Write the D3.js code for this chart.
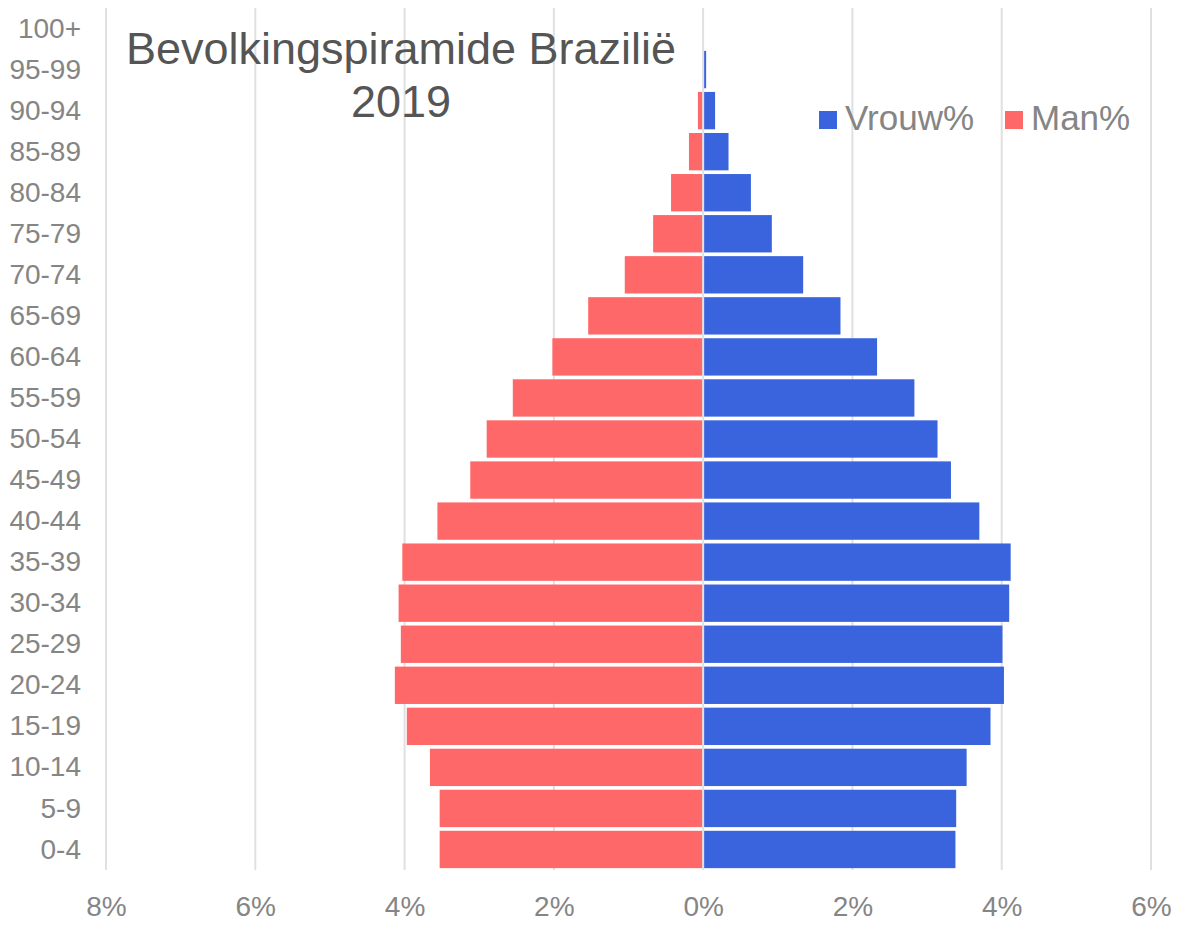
<!DOCTYPE html>
<html>
<head>
<meta charset="utf-8">
<script src="https://cdn.jsdelivr.net/npm/d3@7"></script>
<style>
  html, body { margin: 0; padding: 0; background: #fff; }
  svg { display: block; font-family: "Liberation Sans", Arial, Helvetica, sans-serif; }
</style>
</head>
<body>
<svg id="chart" width="1200" height="933"></svg>
<script>
// ---- data ----
const ageGroups = ["0-4","5-9","10-14","15-19","20-24","25-29","30-34","35-39","40-44","45-49",
                   "50-54","55-59","60-64","65-69","70-74","75-79","80-84","85-89","90-94","95-99","100+"];
const vrouwPct = [3.38, 3.39, 3.53, 3.85, 4.03, 4.01, 4.10, 4.12, 3.70, 3.32,
                  3.14, 2.83, 2.33, 1.84, 1.34, 0.92, 0.64, 0.34, 0.16, 0.04, 0.0];
const manPct   = [3.53, 3.53, 3.66, 3.97, 4.13, 4.05, 4.08, 4.03, 3.56, 3.12,
                  2.90, 2.55, 2.02, 1.54, 1.05, 0.67, 0.43, 0.19, 0.07, 0.0, 0.0];
const xTicks = [-8, -6, -4, -2, 0, 2, 4, 6];
const xTickLabels = ["8%", "6%", "4%", "2%", "0%", "2%", "4%", "6%"];
const seriesNames = ["Vrouw%", "Man%"];
const titleLines = ["Bevolkingspiramide Brazilië", "2019"];

// ---- layout ----
const colors = { "Vrouw%": "#3a64dd", "Man%": "#fe6869" };
const svg = d3.select("#chart");
const plot = { left: 106, right: 1151, top: 8, bottom: 870 };

const x = d3.scaleLinear().domain([-8, 6]).range([plot.left, plot.right]);
const y = d3.scaleBand().domain(ageGroups.slice().reverse()).range([plot.top, plot.bottom]).paddingInner(0.09).paddingOuter(0.045);

// gridlines
svg.append("g").selectAll("line").data(xTicks).join("line")
  .attr("x1", d => x(d)).attr("x2", d => x(d))
  .attr("y1", plot.top).attr("y2", plot.bottom)
  .attr("stroke", "#e0e0e0").attr("stroke-width", 2);

// bars
const rows = ageGroups.map((g, i) => ({ g, v: vrouwPct[i], m: manPct[i] }));
svg.append("g").selectAll("rect").data(rows.filter(d => d.m > 0)).join("rect")
  .attr("x", d => x(-d.m)).attr("width", d => x(0) - x(-d.m) - 1)
  .attr("y", d => y(d.g)).attr("height", y.bandwidth())
  .attr("fill", colors["Man%"]);
svg.append("g").selectAll("rect").data(rows.filter(d => d.v > 0)).join("rect")
  .attr("x", x(0) + 1).attr("width", d => Math.max(0, x(d.v) - x(0) - 1))
  .attr("y", d => y(d.g)).attr("height", y.bandwidth())
  .attr("fill", colors["Vrouw%"]);

// y axis labels
const yAxis = d3.axisLeft(y).tickSize(0).tickPadding(0);
const yg = svg.append("g").attr("transform", `translate(81,-1)`).call(yAxis);
yg.select(".domain").remove();
yg.selectAll("text").attr("font-size", 28).attr("fill", "#858585")
  .attr("font-family", "'Liberation Sans', Arial, sans-serif").attr("dy", "0.36em");

// x axis labels
const xAxis = d3.axisBottom(x).tickValues(xTicks).tickSize(0).tickPadding(0)
  .tickFormat((d, i) => xTickLabels[i]);
const xg = svg.append("g").attr("transform", `translate(0,896)`).call(xAxis);
xg.select(".domain").remove();
xg.selectAll("text").attr("font-size", 28).attr("fill", "#858585")
  .attr("font-family", "'Liberation Sans', Arial, sans-serif").attr("dy", "0.7em");

// title
const title = svg.append("text").attr("text-anchor", "middle")
  .attr("font-size", 45).attr("fill", "#555555");
title.selectAll("tspan").data(titleLines).join("tspan")
  .attr("x", 401).attr("y", (d, i) => 64 + i * 53).text(d => d);

// legend
const legendItems = [
  { name: seriesNames[0], sx: 819 },
  { name: seriesNames[1], sx: 1005 }
];
const lg = svg.append("g").selectAll("g").data(legendItems).join("g");
lg.append("rect").attr("x", d => d.sx).attr("y", 111).attr("width", 18).attr("height", 18)
  .attr("fill", d => colors[d.name]);
lg.append("text").attr("x", d => d.sx + 26).attr("y", 130)
  .attr("font-size", 35).attr("fill", "#858585").text(d => d.name);
</script>
</body>
</html>
